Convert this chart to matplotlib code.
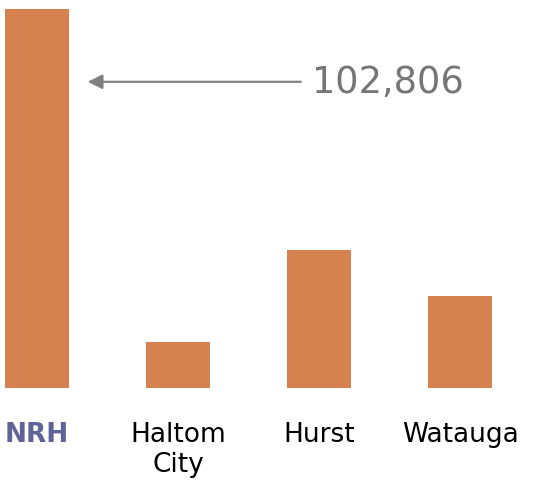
import matplotlib
matplotlib.use("Agg")
import matplotlib.pyplot as plt
import numpy as np

# data
cities = ["NRH", "Haltom\nCity", "Hurst", "Watauga"]
values = [102806, 12500, 37400, 25000]
highlight = "NRH"

bar_color = "#d58150"
label_color = "#000000"
highlight_color = "#5f6398"
note_color = "#767676"

fig = plt.figure(figsize=(5.4, 4.81), dpi=100)
ax = fig.add_axes([0.0, 0.192, 1.0, 0.787])

x = np.arange(len(cities))
ax.bar(x, values, width=0.45, color=bar_color)

ax.set_xlim(-0.262, 3.567)
ax.set_ylim(0, max(values) * 1.0)
ax.set_xticks(x)
ax.set_xticklabels(cities, fontsize=19, linespacing=1.2)
ax.tick_params(axis="x", length=0, pad=24)
for lbl in ax.get_xticklabels():
    if lbl.get_text() == highlight:
        lbl.set_color(highlight_color)
        lbl.set_fontweight("bold")
    else:
        lbl.set_color(label_color)
ax.set_yticks([])
for s in ax.spines.values():
    s.set_visible(False)

# callout for the tallest bar
i = values.index(max(values))
ax.annotate(
    f"{values[i]:,}",
    xy=(x[i] + 0.36, values[i] * 0.808),
    xytext=(x[i] + 1.95, values[i] * 0.808),
    fontsize=26.5, color=note_color, va="center", ha="left",
    arrowprops=dict(arrowstyle="-|>", color="#808080", lw=1.6,
                    mutation_scale=22, shrinkA=6, shrinkB=0),
)

fig.savefig("out.png", dpi=100)
